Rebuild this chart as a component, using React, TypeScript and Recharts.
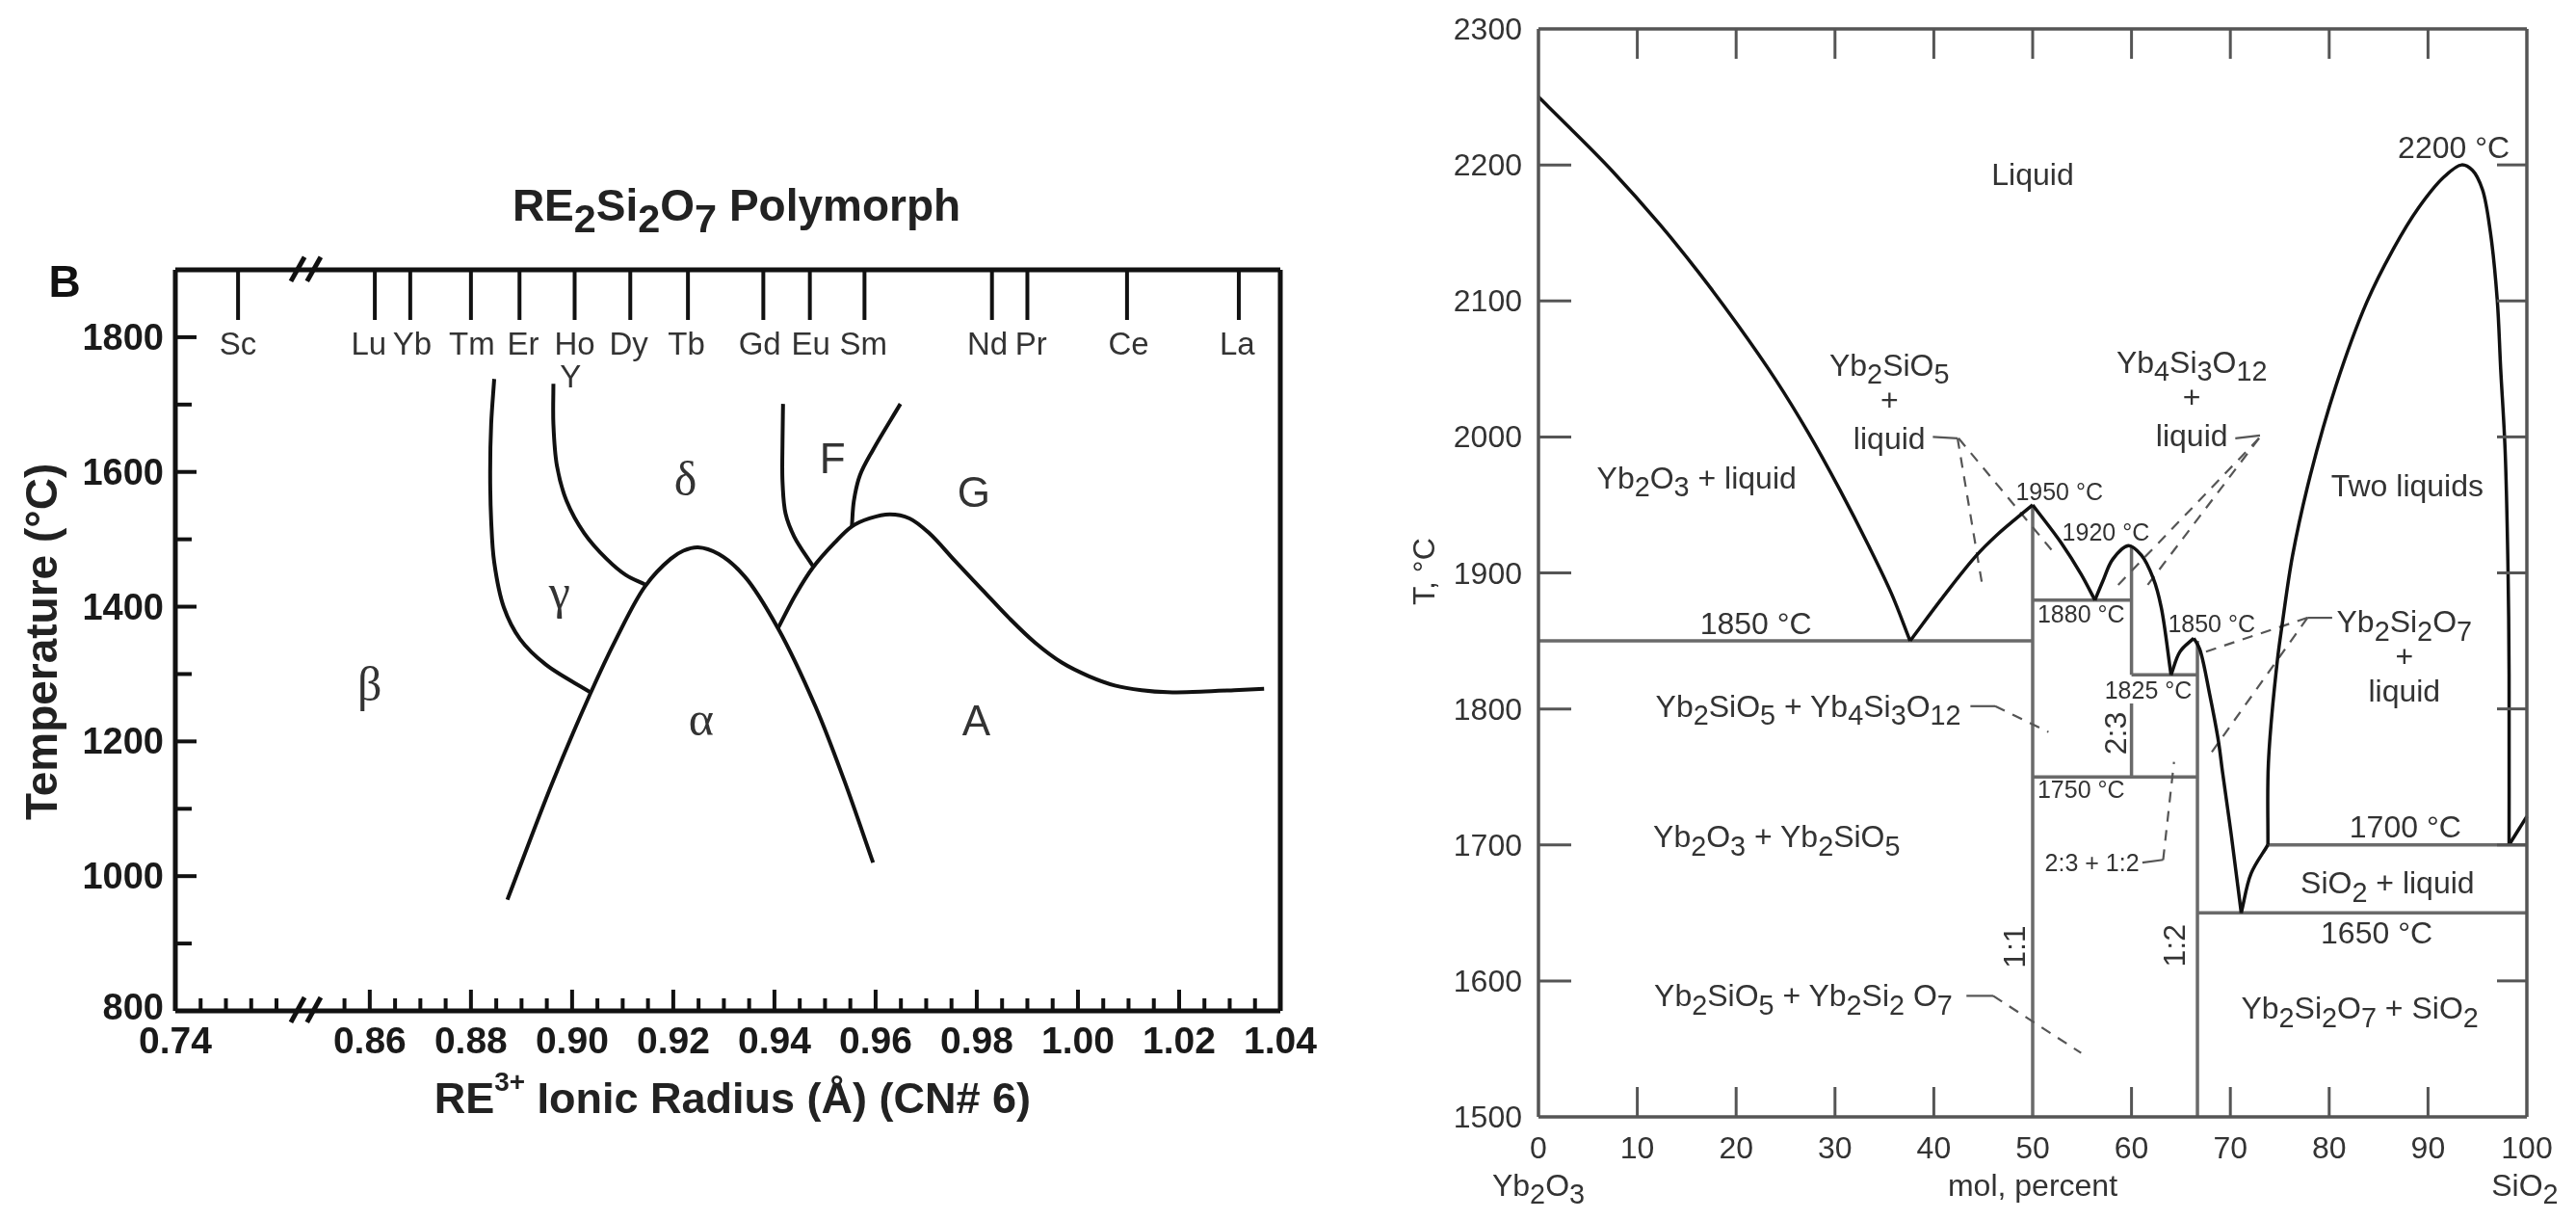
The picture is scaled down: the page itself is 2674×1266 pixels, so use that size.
import React from 'react';
import { LineChart, Line, XAxis, YAxis, ReferenceDot, ReferenceLine } from 'recharts';

type Pair = [number, number];

// ---------- Left panel data: RE2Si2O7 polymorphs (ionic radius, temperature) ----------
const elementNames = ['Sc', 'Lu', 'Yb', 'Tm', 'Er', 'Ho', 'Dy', 'Tb', 'Gd', 'Eu', 'Sm', 'Nd', 'Pr', 'Ce', 'La'];
const elementRadii = [0.7524, 0.861, 0.868, 0.88, 0.8896, 0.9005, 0.9115, 0.9229, 0.9378, 0.947, 0.9578, 0.983, 0.99, 1.0097, 1.0318];
const elementLabelRadii = [0.7524, 0.8598, 0.8684, 0.8802, 0.8903, 0.9005, 0.9112, 0.9226, 0.9371, 0.9472, 0.9576, 0.9821, 0.9907, 1.01, 1.0315];
const radiusTicks = [0.74, 0.745, 0.75, 0.755, 0.76, 0.855, 0.86, 0.865, 0.87, 0.875, 0.88, 0.885, 0.89, 0.895, 0.9, 0.905, 0.91, 0.915, 0.92, 0.925, 0.93, 0.935, 0.94, 0.945, 0.95, 0.955, 0.96, 0.965, 0.97, 0.975, 0.98, 0.985, 0.99, 0.995, 1.0, 1.005, 1.01, 1.015, 1.02, 1.025, 1.03, 1.035, 1.04];
const radiusLabels = [0.74, 0.86, 0.88, 0.9, 0.92, 0.94, 0.96, 0.98, 1.0, 1.02, 1.04];
const polyTempTicks = [800, 900, 1000, 1100, 1200, 1300, 1400, 1500, 1600, 1700, 1800];
const polyTempLabels = [800, 1000, 1200, 1400, 1600, 1800];

const betaGamma: Pair[] = [[0.8846, 1738], [0.884, 1671], [0.8838, 1600], [0.884, 1528], [0.8846, 1466], [0.8865, 1399], [0.8897, 1352], [0.8948, 1314], [0.9036, 1273]];
const gammaDelta: Pair[] = [[0.8963, 1731], [0.8963, 1671], [0.897, 1609], [0.8989, 1557], [0.9024, 1509], [0.9068, 1471], [0.9106, 1447], [0.9144, 1433]];
const alphaDome: Pair[] = [[0.8872, 965], [0.896, 1137], [0.9036, 1271], [0.9087, 1352], [0.9144, 1430], [0.9195, 1471], [0.922, 1483], [0.9249, 1488], [0.929, 1478], [0.9341, 1445], [0.9407, 1368], [0.9481, 1252], [0.9538, 1142], [0.9595, 1020]];
const gaBoundary: Pair[] = [[0.9407, 1368], [0.9442, 1418], [0.9477, 1459], [0.9519, 1495], [0.9553, 1519], [0.9588, 1531], [0.9628, 1537], [0.9667, 1531], [0.9706, 1509], [0.9758, 1467], [0.9811, 1425], [0.9864, 1383], [0.9916, 1346], [0.9968, 1317], [1.0021, 1297], [1.0073, 1283], [1.0126, 1276], [1.0177, 1273], [1.0243, 1274], [1.0309, 1276], [1.0368, 1278]];
const deltaF: Pair[] = [[0.9417, 1701], [0.9416, 1647], [0.9416, 1585], [0.9422, 1538], [0.9439, 1504], [0.9477, 1459]];
const fG: Pair[] = [[0.9553, 1519], [0.9557, 1557], [0.9569, 1595], [0.9595, 1633], [0.9649, 1701]];
const polyCurves = [betaGamma, gammaDelta, alphaDome, gaBoundary, deltaF, fG];

const breakBottomA: Pair[] = [[0.8444, 783], [0.8471, 820]];
const breakBottomB: Pair[] = [[0.8476, 783], [0.8503, 820]];
const breakTopA: Pair[] = [[0.8444, 1883], [0.8471, 1919]];
const breakTopB: Pair[] = [[0.8476, 1883], [0.8503, 1919]];
const breakGapBottom: Pair[] = [[0.8463, 800], [0.849, 800]];
const breakGapTop: Pair[] = [[0.8463, 1900], [0.849, 1900]];

const phaseNames = ['δ', 'γ', 'α', 'β'];
const phaseRadii = [0.9224, 0.8975, 0.9255, 0.86];
const phaseTemps = [1590, 1422, 1234, 1285];
const latinPhaseNames = ['F', 'G', 'A'];
const latinPhaseRadii = [0.9515, 0.9794, 0.9799];
const latinPhaseTemps = [1621, 1571, 1232];

// ---------- Right panel data: Yb2O3-SiO2 phase diagram (mol %, temperature) ----------
const molTicks = [0, 10, 20, 30, 40, 50, 60, 70, 80, 90, 100];
const tempTicks = [1500, 1600, 1700, 1800, 1900, 2000, 2100, 2200, 2300];

const liquidusA: Pair[] = [[0, 2250], [3.2, 2227], [7.4, 2196], [12.3, 2156], [16.2, 2121], [20.1, 2083], [24, 2042], [27.3, 2003], [30.5, 1961], [33.4, 1920], [35.7, 1885], [37.6, 1850]];
const liquidusB: Pair[] = [[37.6, 1850], [40.9, 1882], [44.2, 1912], [46.4, 1928], [50, 1950]];
const liquidusC: Pair[] = [[50, 1950], [52.9, 1922], [54.9, 1899], [56.3, 1880]];
const liquidusD: Pair[] = [[56.3, 1880], [57.1, 1894], [58.1, 1910], [59.7, 1920], [61, 1913], [62.2, 1896], [63, 1875], [64, 1825]];
const liquidusE: Pair[] = [[64, 1825], [64.9, 1842], [66.3, 1852]];
const liquidusF: Pair[] = [[66.3, 1852], [66.9, 1844], [67.9, 1811], [68.8, 1776], [69.2, 1754], [70.1, 1707], [71.1, 1650]];
const liquidusG: Pair[] = [[71.1, 1650], [72.1, 1679], [73.8, 1700]];
const liquidusH: Pair[] = [[73.8, 1700], [73.85, 1760], [74.7, 1832], [75.3, 1865], [76.3, 1913], [78.1, 1972], [80.7, 2038], [83.8, 2099], [86.4, 2137], [89, 2168], [91.6, 2191], [93.4, 2200], [94.5, 2196], [95.5, 2182], [96.3, 2151], [97, 2101], [97.35, 2050], [97.8, 1990], [98.1, 1899], [98.2, 1825], [98.2, 1700]];
const liquidusI: Pair[] = [[98.2, 1700], [100, 1721]];
const liquidusCurves = [liquidusA, liquidusB, liquidusC, liquidusD, liquidusE, liquidusF, liquidusG, liquidusH, liquidusI];

const isotherm1850: Pair[] = [[0, 1850], [50, 1850]];
const isotherm1880: Pair[] = [[50, 1880], [60, 1880]];
const isotherm1825: Pair[] = [[60, 1825], [66.67, 1825]];
const isotherm1750: Pair[] = [[50, 1750], [66.67, 1750]];
const isotherm1700: Pair[] = [[73.8, 1700], [100, 1700]];
const isotherm1650: Pair[] = [[66.67, 1650], [100, 1650]];
const compound11: Pair[] = [[50, 1500], [50, 1950]];
const compound23Upper: Pair[] = [[60, 1825], [60, 1920]];
const compound23Lower: Pair[] = [[60, 1750], [60, 1804]];
const compound12: Pair[] = [[66.67, 1500], [66.67, 1850]];
const greyLines = [isotherm1850, isotherm1880, isotherm1825, isotherm1750, isotherm1700, isotherm1650, compound11, compound23Upper, compound23Lower, compound12];

const leaderSolid: Pair[][] = [
  [[39.9, 2000], [42.4, 1999]],
  [[70.5, 1999], [73, 2001]],
  [[80.3, 1867], [77.8, 1867]],
  [[43.7, 1802], [46.2, 1802]],
  [[43.3, 1589], [46, 1589]],
  [[61.1, 1687], [63.2, 1689]],
];
const leaderDashed: Pair[][] = [
  [[42.4, 1999], [44.9, 1891]],
  [[42.5, 1999], [51.9, 1917]],
  [[72.9, 1999], [58.1, 1887]],
  [[72.9, 1999], [61.2, 1887]],
  [[77.8, 1867], [67.5, 1842]],
  [[77.8, 1867], [67.7, 1764]],
  [[46.2, 1802], [51.6, 1783]],
  [[46, 1589], [54.9, 1547]],
  [[63.2, 1689], [64.3, 1761]],
];

const largeLabels: string[] = ['Liquid', 'Yb_2SiO_5', '+', 'liquid', 'Yb_4Si_3O_1_2', '+', 'liquid', 'Yb_2O_3 + liquid', 'Two liquids', '2200 °C', '1850 °C', 'Yb_2Si_2O_7', '+', 'liquid', 'Yb_2SiO_5 + Yb_4Si_3O_1_2', 'Yb_2O_3 + Yb_2SiO_5', '1700 °C', 'SiO_2 + liquid', '1650 °C', 'Yb_2SiO_5 + Yb_2Si_2 O_7', 'Yb_2Si_2O_7 + SiO_2', 'Yb_2O_3', 'mol, percent', 'SiO_2'];
const largeLabelMol = [50, 35.5, 35.5, 35.5, 66.1, 66.1, 66.1, 16, 87.9, 92.6, 22, 87.6, 87.6, 87.6, 27.3, 24.1, 87.7, 85.9, 84.8, 26.8, 83.1, 0, 50, 99.8];
const largeLabelTemp = [2193, 2053, 2027, 1999, 2055, 2029, 2001, 1970, 1964, 2213, 1863, 1864, 1839, 1813, 1802, 1706, 1713, 1672, 1635, 1589, 1580, 1450, 1450, 1450];
const smallLabels = ['1950 °C', '1920 °C', '1880 °C', '1850 °C', '1825 °C', '1750 °C', '2:3 + 1:2'];
const smallLabelMol = [52.7, 57.4, 54.9, 68.1, 61.7, 54.9, 56];
const smallLabelTemp = [1960, 1930, 1870, 1863, 1814, 1741, 1687];
const rotatedLabels = ['2:3', '1:1', '1:2', 'T, °C'];
const rotatedMol = [58.4, 48.1, 64.3, -11.6];
const rotatedTemp = [1782, 1625, 1626, 1901];

// ---------- Layout ----------
const SANS = '"Liberation Sans", Arial, sans-serif';
const SERIF = '"Liberation Serif", "DejaVu Serif", serif';
const BREAK_SHIFT = 0.08156;
const brokenX = (v: number) => (v < 0.8 ? v + BREAK_SHIFT : v);
const unbreakX = (v: number) => (v < 0.85 ? v - BREAK_SHIFT : v);
const toPts = (list: Pair[]) => list.map(([x, y]) => ({ x, y }));
const inList = (list: number[], v: number) => list.some((m) => Math.abs(m - v) < 1e-6);

// Centripetal Catmull-Rom curve: passes smoothly through unevenly spaced hand-read points.
const smoothCurve = (ctx: any) => {
  let pts: [number, number][] = [];
  return {
    areaStart() {},
    areaEnd() {},
    lineStart() {
      pts = [];
    },
    point(x: number, y: number) {
      pts.push([+x, +y]);
    },
    lineEnd() {
      if (!pts.length) return;
      ctx.moveTo(pts[0][0], pts[0][1]);
      const knot = (a: number[], b: number[]) => Math.max(Math.pow(Math.hypot(b[0] - a[0], b[1] - a[1]), 0.5), 1e-3);
      for (let i = 0; i < pts.length - 1; i++) {
        const p1 = pts[i];
        const p2 = pts[i + 1];
        const p0 = pts[i - 1];
        const p3 = pts[i + 2];
        const t12 = knot(p1, p2);
        const tan = (k: number) => {
          let m1 = (p2[k] - p1[k]) / t12;
          let m2 = m1;
          if (p0) {
            const t01 = knot(p0, p1);
            m1 = (p1[k] - p0[k]) / t01 - (p2[k] - p0[k]) / (t01 + t12) + (p2[k] - p1[k]) / t12;
          }
          if (p3) {
            const t23 = knot(p2, p3);
            m2 = (p2[k] - p1[k]) / t12 - (p3[k] - p1[k]) / (t12 + t23) + (p3[k] - p2[k]) / t23;
          }
          return [p1[k] + (m1 * t12) / 3, p2[k] - (m2 * t12) / 3];
        };
        const [cx1, cx2] = tan(0);
        const [cy1, cy2] = tan(1);
        ctx.bezierCurveTo(cx1, cy1, cx2, cy2, p2[0], p2[1]);
      }
    },
  };
};

function RichText({ x, y, text, size, weight, fill, family, rotate, anchor }: any) {
  const parts: any[] = [];
  let buf = '';
  const flush = () => {
    if (buf) parts.push({ t: buf });
    buf = '';
  };
  for (let i = 0; i < text.length; i++) {
    if (text[i] === '_') {
      flush();
      let digits = '';
      while (text[i] === '_') {
        digits += text[i + 1];
        i += 2;
      }
      i--;
      parts.push({ t: digits, sub: true });
    } else if (text[i] === '^') {
      flush();
      parts.push({ t: text.slice(i + 1, i + 3), sup: true });
      i += 2;
    } else {
      buf += text[i];
    }
  }
  flush();
  let prev = 0;
  return (
    <text
      x={x}
      y={y}
      textAnchor={anchor || 'middle'}
      dominantBaseline="central"
      fontSize={size}
      fontWeight={weight || 'normal'}
      fill={fill || '#333'}
      fontFamily={family || SANS}
      transform={rotate ? `rotate(-90 ${x} ${y})` : undefined}
    >
      {parts.map((p, i) => {
        const fs = p.sub ? size * 0.9 : p.sup ? size * 0.62 : size;
        const target = p.sub ? size * 0.3 : p.sup ? -size * 0.38 : 0;
        const dy = target - prev;
        prev = target;
        return (
          <tspan key={i} dy={dy} fontSize={fs}>
            {p.t}
          </tspan>
        );
      })}
    </text>
  );
}

const labelDot = (key: string, x: number, y: number, xId: string, yId: string, props: any) => (
  <ReferenceDot
    key={key}
    x={x}
    y={y}
    r={0}
    xAxisId={xId}
    yAxisId={yId}
    ifOverflow="visible"
    shape={(p: any) => <RichText x={p.cx} y={p.cy} {...props} />}
  />
);

const polyLine = (key: string, pts: Pair[], xId: string, yId: string, stroke: string, width: number, type: any, dash?: string) => (
  <Line
    key={key}
    data={toPts(pts)}
    dataKey="y"
    xAxisId={xId}
    yAxisId={yId}
    type={type}
    stroke={stroke}
    strokeWidth={width}
    strokeDasharray={dash}
    dot={false}
    activeDot={false}
    legendType="none"
    isAnimationActive={false}
  />
);

const segment = (key: string, pts: Pair[], stroke: string, width: number) => (
  <ReferenceLine
    key={key}
    xAxisId="b"
    yAxisId="l"
    ifOverflow="visible"
    stroke={stroke}
    strokeWidth={width}
    segment={pts.map(([x, y]) => ({ x, y }))}
  />
);

// ---------- Left panel ticks ----------
const PolyBottomTick = ({ x, y, payload }: any) => {
  const raw = unbreakX(payload.value);
  const major = inList(radiusLabels, raw);
  const isEnd = raw === 0.74 || raw === 1.04;
  return (
    <g>
      {!isEnd && <line x1={x} x2={x} y1={y} y2={y - (major ? 22 : 13)} stroke="#111" strokeWidth={4} />}
      {major && (
        <text x={x} y={y + 44} textAnchor="middle" fontFamily={SANS} fontWeight="bold" fontSize={39} fill="#1a1a1a">
          {raw.toFixed(2)}
        </text>
      )}
    </g>
  );
};
const PolyLeftTick = ({ x, y, payload }: any) => {
  const major = inList(polyTempLabels, payload.value);
  const lift = payload.value === 800 ? 4 : 0;
  return (
    <g>
      {payload.value !== 800 && <line x1={x} x2={x + (major ? 22 : 17)} y1={y} y2={y} stroke="#111" strokeWidth={4} />}
      {major && (
        <text x={x - 12} y={y - lift} textAnchor="end" dominantBaseline="central" fontFamily={SANS} fontWeight="bold" fontSize={38} fill="#1a1a1a">
          {payload.value}
        </text>
      )}
    </g>
  );
};
const PolyTopTick = ({ x, y }: any) => <line x1={x} x2={x} y1={y} y2={y + 52} stroke="#111" strokeWidth={4} />;

// ---------- Right panel ticks ----------
const axisGrey = '#555';
const MolBottomTick = ({ x, y, payload }: any) => {
  const v = payload.value;
  const inner = v !== 0 && v !== 100 && v !== 50;
  return (
    <g>
      {inner && <line x1={x} x2={x} y1={y} y2={y - 31} stroke={axisGrey} strokeWidth={3} />}
      <text x={x} y={y + 32} textAnchor="middle" dominantBaseline="central" fontFamily={SANS} fontSize={32} fill="#333">
        {v}
      </text>
    </g>
  );
};
const MolTopTick = ({ x, y, payload }: any) =>
  payload.value === 0 || payload.value === 100 ? <g /> : <line x1={x} x2={x} y1={y} y2={y + 31} stroke={axisGrey} strokeWidth={3} />;
const TempLeftTick = ({ x, y, payload }: any) => {
  const v = payload.value;
  return (
    <g>
      {v !== 1500 && v !== 2300 && <line x1={x} x2={x + 34} y1={y} y2={y} stroke={axisGrey} strokeWidth={3} />}
      <text x={x - 17} y={y} textAnchor="end" dominantBaseline="central" fontFamily={SANS} fontSize={32} fill="#333">
        {v}
      </text>
    </g>
  );
};
const TempRightTick = ({ x, y, payload }: any) =>
  payload.value === 1500 || payload.value === 2300 ? <g /> : <line x1={x} x2={x - 31} y1={y} y2={y} stroke={axisGrey} strokeWidth={3} />;

const PolymorphChart = () => (
  <LineChart width={1420} height={1266} margin={{ left: 102, right: 87, top: 270, bottom: 157 }} style={{ position: 'absolute', left: 0, top: 0 }}>
    <XAxis xAxisId="b" type="number" dataKey="x" orientation="bottom" height={60} domain={[0.82156, 1.04]} ticks={radiusTicks.map(brokenX)} interval={0} tick={PolyBottomTick as any} tickLine={false} tickSize={0} tickMargin={0} axisLine={{ stroke: '#111', strokeWidth: 5 }} />
    <XAxis xAxisId="t" type="number" dataKey="x" orientation="top" height={10} domain={[0.82156, 1.04]} ticks={elementRadii.map(brokenX)} interval={0} tick={PolyTopTick as any} tickLine={false} tickSize={0} tickMargin={0} axisLine={{ stroke: '#111', strokeWidth: 5 }} />
    <YAxis yAxisId="l" type="number" orientation="left" width={80} domain={[800, 1900]} ticks={polyTempTicks} interval={0} tick={PolyLeftTick as any} tickLine={false} tickSize={0} tickMargin={0} axisLine={{ stroke: '#111', strokeWidth: 5 }} />
    <YAxis yAxisId="r" type="number" orientation="right" width={4} domain={[800, 1900]} ticks={[]} tick={false} tickLine={false} axisLine={{ stroke: '#111', strokeWidth: 5 }} />

    {polyLine('bind', elementRadii.map((r): Pair => [brokenX(r), 1900]), 't', 'r', 'none', 0, 'linear')}
    {polyCurves.map((c, i) => polyLine(`pc${i}`, c, 'b', 'l', '#111', 4, smoothCurve))}

    {segment('gapb', breakGapBottom, '#fff', 9)}
    {segment('gapt', breakGapTop, '#fff', 9)}
    {[breakBottomA, breakBottomB, breakTopA, breakTopB].map((s, i) => segment(`brk${i}`, s, '#111', 5))}

    {elementNames.map((n, i) => labelDot(`el${i}`, brokenX(elementLabelRadii[i]), 1791, 'b', 'l', { text: n, size: 33, fill: '#333' }))}
    {labelDot('elY', 0.8997, 1743, 'b', 'l', { text: 'Y', size: 33, fill: '#333' })}
    {phaseNames.map((n, i) => labelDot(`ph${i}`, phaseRadii[i], phaseTemps[i], 'b', 'l', { text: n, size: 50, fill: '#333', family: SERIF }))}
    {latinPhaseNames.map((n, i) => labelDot(`lp${i}`, latinPhaseRadii[i], latinPhaseTemps[i], 'b', 'l', { text: n, size: 44, fill: '#333' }))}

    {labelDot('title', 0.9325, 1996, 'b', 'l', { text: 'RE_2Si_2O_7 Polymorph', size: 46, weight: 'bold', fill: '#222' })}
    {labelDot('xt', 0.9317, 671, 'b', 'l', { text: 'RE^3+ Ionic Radius (Å) (CN# 6)', size: 45, weight: 'bold', fill: '#222' })}
    {labelDot('yt', 0.7951, 1348, 'b', 'l', { text: 'Temperature (°C)', size: 46, weight: 'bold', fill: '#222', rotate: true })}
    {labelDot('B', 0.7997, 1883, 'b', 'l', { text: 'B', size: 46, weight: 'bold', fill: '#111' })}
  </LineChart>
);

const PhaseDiagram = () => (
  <LineChart width={1254} height={1266} margin={{ left: 97, right: 47, top: 26, bottom: 47 }} style={{ position: 'absolute', left: 1420, top: 0 }}>
    <XAxis xAxisId="b" type="number" dataKey="x" orientation="bottom" height={60} domain={[0, 100]} ticks={molTicks} interval={0} tick={MolBottomTick as any} tickLine={false} tickSize={0} tickMargin={0} axisLine={{ stroke: axisGrey, strokeWidth: 3.5 }} />
    <XAxis xAxisId="t" type="number" dataKey="x" orientation="top" height={4} domain={[0, 100]} ticks={molTicks} interval={0} tick={MolTopTick as any} tickLine={false} tickSize={0} tickMargin={0} axisLine={{ stroke: axisGrey, strokeWidth: 3.5 }} />
    <YAxis yAxisId="l" type="number" orientation="left" width={80} domain={[1500, 2300]} ticks={tempTicks} interval={0} tick={TempLeftTick as any} tickLine={false} tickSize={0} tickMargin={0} axisLine={{ stroke: axisGrey, strokeWidth: 3.5 }} />
    <YAxis yAxisId="r" type="number" orientation="right" width={4} domain={[1500, 2300]} ticks={tempTicks} interval={0} tick={TempRightTick as any} tickLine={false} tickSize={0} tickMargin={0} axisLine={{ stroke: axisGrey, strokeWidth: 3.5 }} />

    {polyLine('bind', isotherm1850, 't', 'r', 'none', 0, 'linear')}
    {greyLines.map((c, i) => polyLine(`g${i}`, c, 'b', 'l', '#6a6a6a', 3.5, 'linear'))}
    {leaderSolid.map((c, i) => polyLine(`ls${i}`, c, 'b', 'l', '#555', 2.2, 'linear'))}
    {leaderDashed.map((c, i) => polyLine(`ld${i}`, c, 'b', 'l', '#555', 2.2, 'linear', '11 9'))}
    {liquidusCurves.map((c, i) => polyLine(`lq${i}`, c, 'b', 'l', '#111', 3.5, c.length > 2 ? smoothCurve : 'linear'))}

    {largeLabels.map((t, i) => labelDot(`ll${i}`, largeLabelMol[i], largeLabelTemp[i], 'b', 'l', { text: t, size: 32 }))}
    {smallLabels.map((t, i) => labelDot(`sl${i}`, smallLabelMol[i], smallLabelTemp[i], 'b', 'l', { text: t, size: 25 }))}
    {rotatedLabels.map((t, i) => labelDot(`rl${i}`, rotatedMol[i], rotatedTemp[i], 'b', 'l', { text: t, size: 32, rotate: true }))}
  </LineChart>
);

export default function App() {
  return (
    <div style={{ position: 'absolute', left: 0, top: 0, width: 2674, height: 1266, background: '#fff', overflow: 'hidden', filter: 'blur(0.6px)' }}>
      <PolymorphChart />
      <PhaseDiagram />
    </div>
  );
}
